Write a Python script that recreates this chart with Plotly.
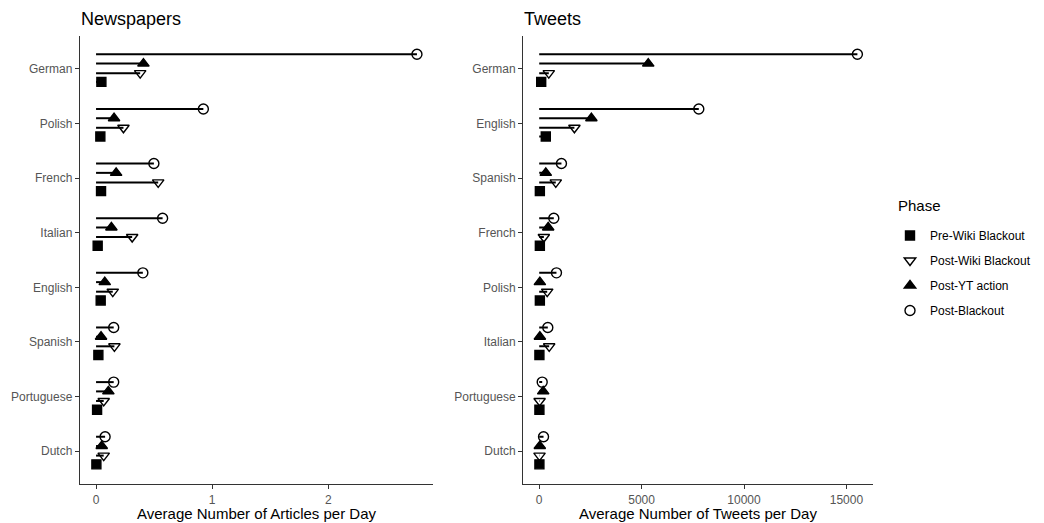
import plotly.graph_objects as go

# page body has an 8px margin: figure is shifted by (8, 8) in the window
OFF = 8
W, H = 1044 - OFF, 523 - OFF

languages_news = ["German", "Polish", "French", "Italian", "English", "Spanish", "Portuguese", "Dutch"]
languages_tweets = ["German", "English", "Spanish", "French", "Polish", "Italian", "Portuguese", "Dutch"]

phases = ["Pre-Wiki Blackout", "Post-Wiki Blackout", "Post-YT action", "Post-Blackout"]

# Newspapers: average number of articles per day (order of languages_news)
news_pre_wiki = [0.046, 0.037, 0.043, 0.014, 0.040, 0.020, 0.009, 0.003]
news_post_wiki = [0.380, 0.236, 0.535, 0.311, 0.144, 0.158, 0.066, 0.066]
news_post_yt = [0.408, 0.155, 0.173, 0.132, 0.075, 0.043, 0.106, 0.049]
news_post_blackout = [2.763, 0.924, 0.498, 0.573, 0.403, 0.152, 0.152, 0.078]

# Tweets: average number of tweets per day (order of languages_tweets)
tw_pre_wiki = [97, 321, 32, 32, 32, 10, 10, 10]
tw_post_wiki = [468, 1719, 810, 227, 390, 487, 20, 15]
tw_post_yt = [5324, 2547, 321, 438, 32, 32, 195, 30]
tw_post_blackout = [15537, 7793, 1086, 712, 843, 420, 146, 211]

news_x_ticks = [0, 1, 2]
news_x_labels = ["0", "1", "2"]
tw_x_ticks = [0, 5000, 10000, 15000]
tw_x_labels = ["0", "5000", "10000", "15000"]

symbols = {"Pre-Wiki Blackout": "square", "Post-Wiki Blackout": "triangle-down-open",
           "Post-YT action": "triangle-up", "Post-Blackout": "circle-open"}
sizes = {"Pre-Wiki Blackout": 9, "Post-Wiki Blackout": 10,
         "Post-YT action": 10, "Post-Blackout": 10}
offsets = {"Pre-Wiki Blackout": -0.24, "Post-Wiki Blackout": -0.08,
           "Post-YT action": 0.095, "Post-Blackout": 0.265}

FONT = "Liberation Sans, Arial, sans-serif"


def px(x):
    return (x - OFF) / W


def py(y):
    return 1 - (y - OFF) / H


fig = go.Figure()


def add_panel(langs, series, xa, ya, legend):
    n = len(langs)
    for ph, vals in zip(phases, series):
        ys = [n - i + offsets[ph] for i in range(n)]
        lx, ly = [], []
        for v, y in zip(vals, ys):
            lx += [0, v, None]
            ly += [y, y, None]
        fig.add_trace(go.Scatter(x=lx, y=ly, mode="lines", xaxis=xa, yaxis=ya,
                                 line=dict(color="black", width=2),
                                 showlegend=False, hoverinfo="skip"))
    for ph, vals in zip(phases, series):
        ys = [n - i + offsets[ph] for i in range(n)]
        fig.add_trace(go.Scatter(x=vals, y=ys, mode="markers", xaxis=xa, yaxis=ya, name=ph,
                                 legendgroup=ph, showlegend=legend,
                                 marker=dict(symbol=symbols[ph], size=sizes[ph], color="black",
                                             line=dict(color="black", width=1.4))))


add_panel(languages_news, [news_pre_wiki, news_post_wiki, news_post_yt, news_post_blackout], "x", "y", True)
add_panel(languages_tweets, [tw_pre_wiki, tw_post_wiki, tw_post_yt, tw_post_blackout], "x2", "y2", False)

axis_common = dict(showline=True, linecolor="#333333", linewidth=1.4, ticks="outside",
                   ticklen=4, tickcolor="#333333", tickwidth=1.1, showgrid=False, zeroline=False,
                   automargin=False,
                   tickfont=dict(family=FONT, size=12, color="#555555"))

ydom = [py(484), py(36)]
nmax = max(news_post_blackout)
tmax = max(tw_post_blackout)

fig.update_layout(
    width=W, height=H, margin=dict(l=0, r=0, t=0, b=0),
    paper_bgcolor="white", plot_bgcolor="white",
    font=dict(family=FONT, color="black"),
    xaxis=dict(domain=[px(80), px(433)], range=[-0.05 * nmax, 1.05 * nmax],
               tickvals=news_x_ticks, ticktext=news_x_labels, anchor="y", **axis_common),
    yaxis=dict(domain=ydom, range=[0.4, 8.6], tickvals=list(range(8, 0, -1)),
               ticktext=languages_news, anchor="x", **axis_common),
    xaxis2=dict(domain=[px(523.3), px(873.3)], range=[-0.05 * tmax, 1.05 * tmax],
                tickvals=tw_x_ticks, ticktext=tw_x_labels, anchor="y2", **axis_common),
    yaxis2=dict(domain=ydom, range=[0.4, 8.6], tickvals=list(range(8, 0, -1)),
                ticktext=languages_tweets, anchor="x2", **axis_common),
    legend=dict(x=px(890), y=py(221), xanchor="left", yanchor="top",
                font=dict(size=12, color="black"), traceorder="grouped", tracegroupgap=6,
                bgcolor="rgba(0,0,0,0)"),
    annotations=[
        dict(text="Newspapers", x=px(79), y=py(7), xref="paper", yref="paper",
             xanchor="left", yanchor="top", showarrow=False, font=dict(size=18, color="black")),
        dict(text="Tweets", x=px(522), y=py(7), xref="paper", yref="paper",
             xanchor="left", yanchor="top", showarrow=False, font=dict(size=18, color="black")),
        dict(text="Phase", x=px(896), y=py(205), xref="paper", yref="paper",
             xanchor="left", yanchor="middle", showarrow=False, font=dict(size=15, color="black")),
        dict(text="Average Number of Articles per Day", x=px((80 + 433) / 2), y=py(513),
             xref="paper", yref="paper", xanchor="center", yanchor="middle", showarrow=False,
             font=dict(size=15, color="black")),
        dict(text="Average Number of Tweets per Day", x=px((523.3 + 873.3) / 2), y=py(513),
             xref="paper", yref="paper", xanchor="center", yanchor="middle", showarrow=False,
             font=dict(size=15, color="black")),
    ],
)

fig.write_html("out.html")
